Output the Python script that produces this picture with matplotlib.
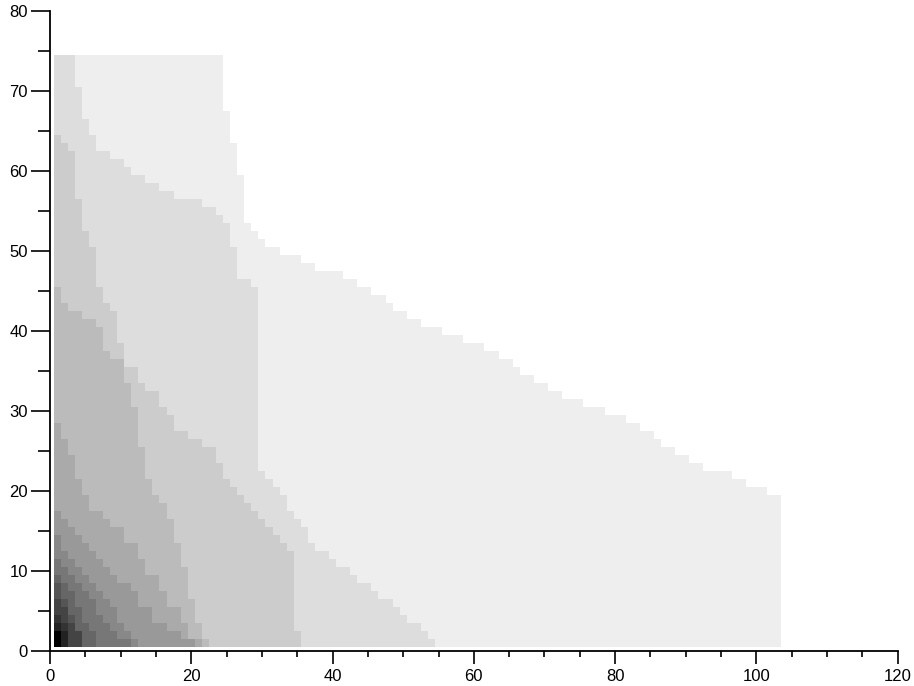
import numpy as np
import matplotlib
matplotlib.use("Agg")
import matplotlib.pyplot as plt
from matplotlib.ticker import MultipleLocator

# Grid: columns 1..103, rows 1..74 (cell centres)
n_cols = 103
n_rows = 74

# Each level boundary: list of (start_row, last_col) breakpoints read top->down.
b1 = [(74,24),(67,25),(63,26),(59,27),(53,28),(52,29),(51,30),(50,32),(49,35),(48,37),(47,41),(46,43),
      (45,45),(44,47),(43,48),(42,50),(41,52),(40,55),(39,58),(38,61),(37,63),(36,65),(35,66),(34,68),
      (33,70),(32,72),(31,75),(30,78),(29,81),(28,83),(27,85),(26,86),(25,88),(24,90),(23,92),(22,96),
      (21,98),(20,101),(19,103)]
b2 = [(74,3),(70,4),(66,5),(64,6),(62,8),(61,10),(60,11),(59,13),(58,15),(57,17),(56,21),(55,23),(54,24),
      (53,25),(50,26),(46,28),(45,29),(22,30),(21,31),(20,32),(19,33),(17,34),(16,35),(15,36),(13,37),
      (12,39),(11,40),(10,42),(9,43),(8,45),(7,46),(6,48),(5,49),(4,50),(3,52),(2,53),(1,54)]
b3 = [(64,1),(63,2),(62,3),(56,4),(52,5),(50,6),(45,7),(43,8),(42,9),(38,10),(35,12),(33,13),(32,15),
      (30,16),(29,17),(27,19),(26,21),(25,23),(23,24),(21,25),(20,26),(19,27),(18,28),(17,29),(16,30),
      (15,31),(14,32),(13,33),(12,34),(2,35)]
b4 = [(45,1),(43,2),(42,4),(41,6),(40,7),(37,8),(36,10),(33,11),(30,12),(25,13),(21,14),(19,15),(18,16),
      (16,17),(13,18),(10,19),(6,20),(3,21),(1,22)]
b5 = [(28,1),(26,2),(24,3),(21,4),(19,5),(17,7),(16,8),(15,10),(13,12),(11,13),(9,15),(7,16),(5,18),(3,19),(1,21)]
b6 = [(17,1),(16,2),(15,3),(14,4),(13,5),(12,6),(11,7),(10,8),(9,9),(8,11),(7,12),(5,14),(3,16),(2,18),(1,20)]
b7 = [(14,1),(12,2),(11,3),(10,4),(9,5),(8,6),(7,7),(6,8),(5,9),(3,10),(2,11),(1,12)]
b8 = [(11,1),(10,2),(9,3),(8,4),(7,5),(6,6),(4,7),(3,8),(2,9),(1,11)]
b9 = [(9,1),(8,2),(7,3),(5,4),(3,5),(2,6)]
b10 = [(8,1),(6,2),(4,3),(2,4)]
b11 = [(6,1),(5,2),(3,3),(2,4)]
b12 = [(4,1),(3,2)]
b13 = [(3,1),(2,2)]
b14 = [(2,1)]
b15 = [(2,1)]
levels = [b1, b2, b3, b4, b5, b6, b7, b8, b9, b10, b11, b12, b13, b14, b15]
n_levels = 15

def last_col(bnd, r):
    lc = 0
    for start, col in bnd:
        if r <= start:
            lc = col
    return lc

Z = np.zeros((n_rows, n_cols))
rows = np.arange(1, n_rows + 1)
cols = np.arange(1, n_cols + 1)
for bnd in levels:
    for i, r in enumerate(rows):
        lc = last_col(bnd, r)
        Z[i, cols <= lc] += 1

fig = plt.figure(figsize=(9.14, 6.86), dpi=100)
ax = fig.add_axes([50/914, (686-651.2)/686, 847.7/914, 640/686])
xe = np.arange(0.5, n_cols + 1, 1.0)
ye = np.arange(0.5, n_rows + 1, 1.0)
ax.pcolormesh(xe, ye, Z, cmap='gray_r', vmin=0, vmax=n_levels, shading='flat', antialiased=False)

ax.set_xlim(0, 120)
ax.set_ylim(0, 80)
for s in ['top', 'right']:
    ax.spines[s].set_visible(False)
for s in ['left', 'bottom']:
    ax.spines[s].set_linewidth(1.3)
ax.xaxis.set_major_locator(MultipleLocator(20))
ax.xaxis.set_minor_locator(MultipleLocator(5))
ax.yaxis.set_major_locator(MultipleLocator(10))
ax.yaxis.set_minor_locator(MultipleLocator(5))
ax.tick_params(axis='x', which='major', length=9, width=1.2, direction='out', labelsize=12, pad=4)
ax.tick_params(axis='x', which='minor', length=4, width=1.2, direction='out')
ax.tick_params(axis='y', which='major', length=14, width=1.2, direction='out', labelsize=12, pad=2)
ax.tick_params(axis='y', which='minor', length=9, width=1.2, direction='out')
for lab in ax.get_xticklabels() + ax.get_yticklabels():
    lab.set_family('Liberation Sans')
ax.set_facecolor('white')
fig.savefig('out.png', dpi=100)
